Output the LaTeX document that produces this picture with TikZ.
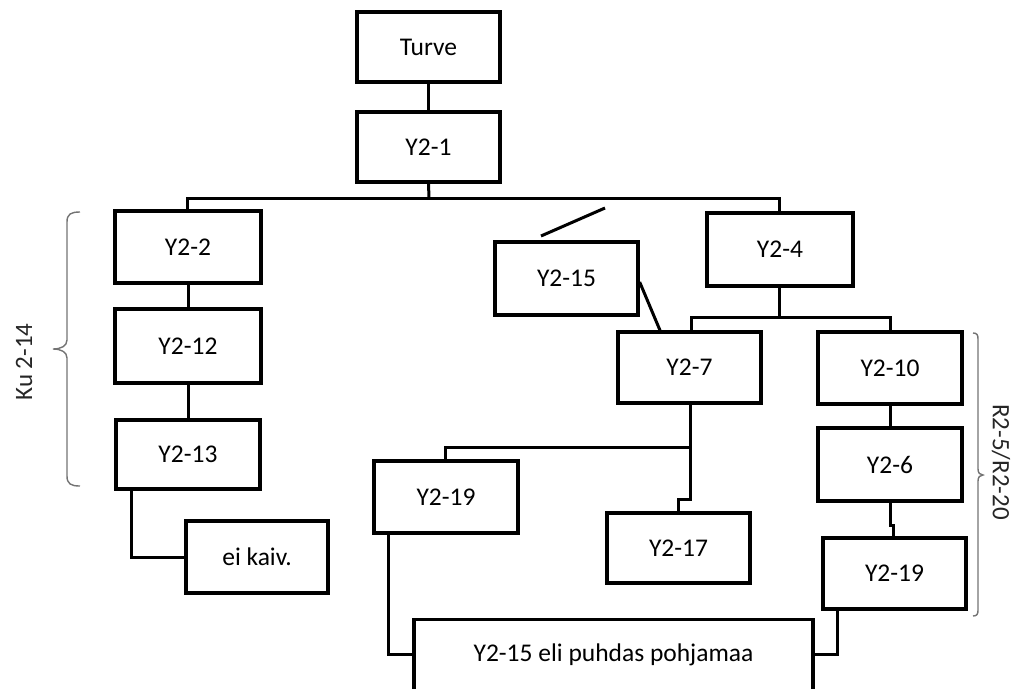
\documentclass[tikz,border=0pt]{standalone}
\usepackage{fontspec}
\setmainfont{Carlito}
\usetikzlibrary{calc}
\tikzset{
  box/.style={draw=black, line width=3.3pt, fill=white, inner sep=0pt, font=\fontsize{25.5}{30}\selectfont},
  conn/.style={draw=black, line width=3pt},
  bracepath/.style={draw=black!55, line width=1.4pt},
  sidelabel/.style={font=\fontsize{25}{30}\selectfont, text=black!85}
}
\begin{document}
\begin{tikzpicture}[x=1pt,y=-1pt]
\useasboundingbox (0,0) rectangle (1014,688);
\clip (0,0) rectangle (1014,688);
% connectors first
\coordinate (b1) at (429,198);
\coordinate (b2) at (779,317);
\coordinate (b3) at (690,447);
\coordinate (s1) at (541,236);
\coordinate (s2) at (605,208);
% nodes
\node[box, minimum width=143pt, minimum height=70pt] (turve) at (428.5,47) {Turve};
\node[box, minimum width=143pt, minimum height=70pt] (y21) at (428.5,147) {Y2-1};
\node[box, minimum width=146pt, minimum height=72pt] (y22) at (188,247) {Y2-2};
\node[box, minimum width=146pt, minimum height=74pt] (y212) at (188,346) {Y2-12};
\node[box, minimum width=144pt, minimum height=69pt] (y213) at (188,454.5) {Y2-13};
\node[box, minimum width=142pt, minimum height=72pt] (eik) at (257,557) {ei kaiv.};
\node[box, minimum width=143pt, minimum height=73pt] (y215) at (566.5,278.5) {Y2-15};
\node[box, minimum width=146pt, minimum height=73pt] (y24) at (780,249.5) {Y2-4};
\node[box, minimum width=143pt, minimum height=71pt] (y27) at (689.5,367.5) {Y2-7};
\node[box, minimum width=144pt, minimum height=72pt] (y210) at (890,368) {Y2-10};
\node[box, minimum width=144pt, minimum height=73pt] (y26) at (890,464.5) {Y2-6};
\node[box, minimum width=143pt, minimum height=71pt] (y219b) at (894.5,573.5) {Y2-19};
\node[box, minimum width=144pt, minimum height=72pt] (y219a) at (446,497) {Y2-19};
\node[box, minimum width=143pt, minimum height=70pt] (y217) at (678.5,548) {Y2-17};
\node[box, minimum width=399pt, text height=42pt, text depth=60pt, anchor=north] (bot) at (613.5,618) {Y2-15 eli puhdas pohjamaa};
% connectors
\draw[conn] (turve.south) -- (y21.north);
\draw[conn] (y21.south) -- (b1);
\draw[conn] (y22.north -| 187,0) |- (b1) -| (y24.north -| 779,0);
\draw[conn] (y22.south) -- (y212.north);
\draw[conn] (y212.south) -- (y213.north);
\draw[conn] ($(y213.south)+(-57,0)$) |- (eik.west);
\draw[conn] (s1) -- (s2);
\draw[conn] ($(y215.east)+(0,3.5)$) -- ($(y27.north)+(-29.5,0)$);
\draw[conn] (y24.south -| b2) -- (b2);
\draw[conn] (y27.north -| 691,0) |- (b2) -| (y210.north);
\draw[conn] (y210.south) -- (y26.south);
\draw[conn] (y26.south) -- ++(0,23) -| ($(y219b.north)+(-1.5,0)$);
\draw[conn] (y27.south -| b3) -- ++(0,95) -| (y217.north);
\draw[conn] ($(y219a.north)+(-1,0)$) |- (b3);
\draw[conn] ($(y219a.south)+(-58,0)$) |- ($(bot.north west)+(0,36)$);
\draw[conn] ($(y219b.south)+(-57.5,0)$) |- ($(bot.north east)+(0,36)$);
% redraw boxes on top of connectors that pass behind
\node[box, minimum width=143pt, minimum height=70pt] at (y21) {Y2-1};
\node[box, minimum width=146pt, minimum height=74pt] at (y212) {Y2-12};
\node[box, minimum width=144pt, minimum height=73pt] at (y26) {Y2-6};
% braces
\draw[bracepath] (80,212) .. controls (71,212) and (67,214) .. (67,222) -- (67,340)
  .. controls (67,346) and (61,349) .. (53,349) .. controls (61,349) and (67,352) .. (67,358)
  -- (67,476) .. controls (67,484) and (71,486) .. (80,486);
\draw[bracepath] (973,333) .. controls (977,333) and (978,335) .. (978,339) -- (978,469)
  .. controls (978,473) and (980,475) .. (983,475) .. controls (980,475) and (978,477) .. (978,481)
  -- (978,610) .. controls (978,614) and (977,616) .. (973,616);
\node[sidelabel, rotate=90] (ku) at (24,362) {Ku 2-14};
\node[sidelabel, rotate=-90] (r2) at (1001,462) {R2-5/R2-20};
\end{tikzpicture}
\end{document}
